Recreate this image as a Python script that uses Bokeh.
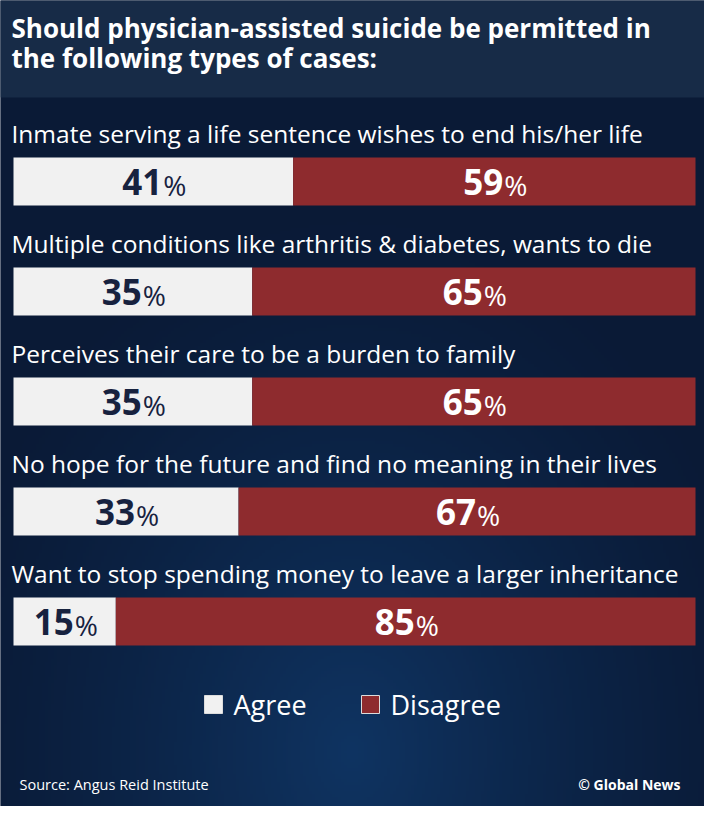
import numpy as np
from bokeh.plotting import figure
from bokeh.models import Range1d
from bokeh.core.properties import value
from bokeh.embed import file_html
from bokeh.resources import INLINE

# data
title_lines = ["Should physician-assisted suicide be permitted in",
               "the following types of cases:"]
cases = ["Inmate serving a life sentence wishes to end his/her life",
         "Multiple conditions like arthritis & diabetes, wants to die",
         "Perceives their care to be a burden to family",
         "No hope for the future and find no meaning in their lives",
         "Want to stop spending money to leave a larger inheritance"]
agree = [41, 35, 35, 33, 15]
disagree = [59, 65, 65, 67, 85]
series = ["Agree", "Disagree"]
source_note = "Source: Angus Reid Institute"
credit = "\u00a9 Global News"

# style / layout
FONT = "Open Sans"
AGREE_COLOR = "#f1f1f1"
DIS_COLOR = "#8e2b2e"
NAVY_TEXT = "#17223f"
HEADER = "#172b47"
X0, PX = 21, 6.82          # reference pixel of 0 %, pixels per percent
ROW0, ROW_GAP, BAR_H = 189, 110, 48


def rx(px):
    return (px - X0) / PX


p = figure(width=704, height=806,
           x_range=Range1d(rx(8), rx(712)), y_range=Range1d(814, 8),
           toolbar_location=None, tools="", min_border=0,
           output_backend="svg")
p.axis.visible = False
p.grid.visible = False
p.outline_line_color = None
p.background_fill_color = "#0b1b38"
p.border_fill_color = "#0b1b38"

# background glow, lighter toward bottom centre
gh, gw = 240, 240
yy, xx = np.mgrid[0:gh, 0:gw]
top, bot = 105, 814
py = top + (yy + 0.5) / gh * (bot - top)
px = 8 + (xx + 0.5) / gw * 704
d = np.sqrt(((px - 360) / 430.0) ** 2 + ((py - 760) / 560.0) ** 2)
t = np.clip(1 - d, 0, 1) ** 1.3
dark = np.array([10, 26, 54])
light = np.array([15, 52, 98])
rgb = dark + (light - dark) * t[..., None]
img = np.empty((gh, gw), dtype=np.uint32)
view = img.view(dtype=np.uint8).reshape((gh, gw, 4))
view[..., 0] = rgb[..., 0]
view[..., 1] = rgb[..., 1]
view[..., 2] = rgb[..., 2]
view[..., 3] = 255
p.image_rgba(image=[img], x=rx(8), y=top, dw=rx(712) - rx(8), dh=bot - top)

# header band
p.quad(left=rx(0), right=rx(720), top=0, bottom=105, fill_color=HEADER, line_color=None)
p.text(x=rx(19), y=[35, 65], text=title_lines, text_color="white",
       text_font=value(FONT), text_font_style="bold", text_font_size="26px",
       text_baseline="middle")

ys = [ROW0 + ROW_GAP * i for i in range(len(cases))]
totals = [a + d for a, d in zip(agree, disagree)]

p.hbar(y=ys, left=0, right=agree, height=BAR_H, fill_color=AGREE_COLOR, line_color=None)
p.hbar(y=ys, left=agree, right=totals, height=BAR_H, fill_color=DIS_COLOR, line_color=None)

p.text(x=rx(19), y=[y - 48 for y in ys], text=cases, text_color="white",
       text_font=value(FONT), text_font_size="24.5px", text_baseline="middle")

# value labels: big number + smaller percent sign
for vals, lefts, col in [(agree, [0] * len(agree), NAVY_TEXT),
                         (disagree, agree, "white")]:
    cx = [l + v / 2 for l, v in zip(lefts, vals)]
    yb = [y for y in ys]
    p.text(x=cx, y=yb, text=[str(v) for v in vals], text_color=col,
           text_font=value(FONT), text_font_style="bold", text_font_size="35px",
           text_align="right", text_baseline="middle", x_offset=9)
    p.text(x=cx, y=[y + 3 for y in yb], text=["%"] * len(vals), text_color=col,
           text_font=value(FONT), text_font_size="28px",
           text_align="left", text_baseline="middle", x_offset=10)

# legend
p.rect(x=[rx(221), rx(378)], y=[712, 712], width=18, height=18,
       width_units="screen", height_units="screen",
       fill_color=[AGREE_COLOR, DIS_COLOR], line_color="#dcdcdc", line_width=1)
p.text(x=[rx(241), rx(398)], y=[712, 712], text=series, text_color="white",
       text_font=value(FONT), text_font_size="27px", text_baseline="middle")

# footer
p.text(x=rx(27), y=[792], text=[source_note], text_color="white",
       text_font=value(FONT), text_font_size="14.5px", text_baseline="middle")
p.text(x=rx(688), y=[792], text=[credit], text_color="white",
       text_font=value(FONT), text_font_style="bold", text_font_size="14px",
       text_align="right", text_baseline="middle")

open("out.html", "w").write(file_html(p, INLINE))
